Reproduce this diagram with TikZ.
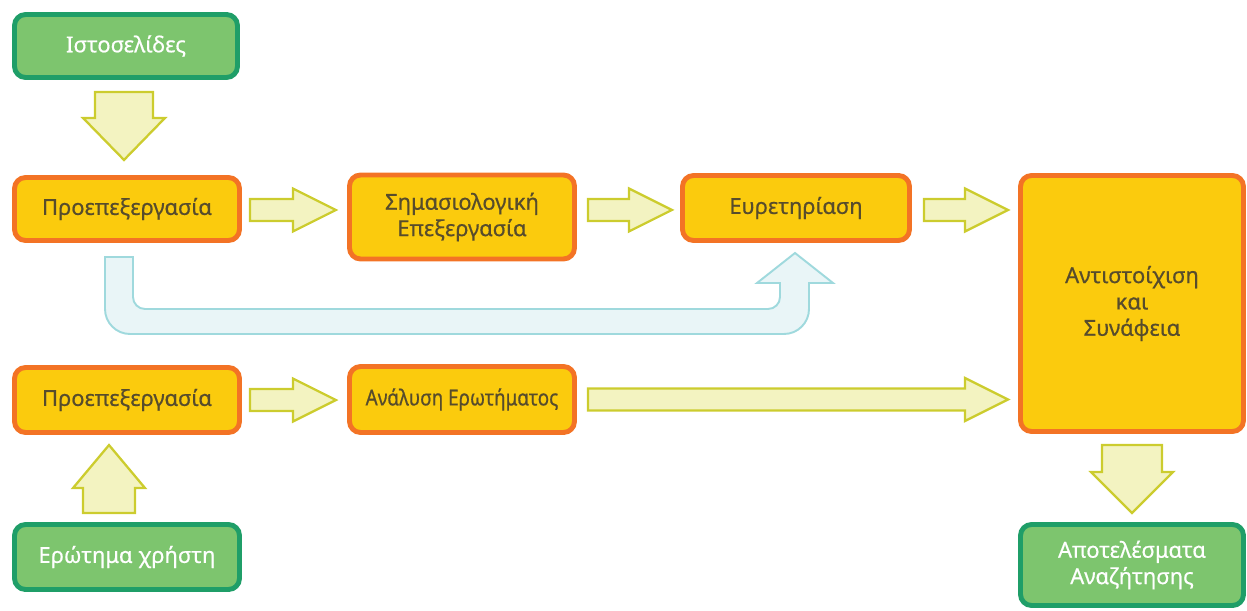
\documentclass[tikz,border=0pt]{standalone}
\usepackage{fontspec}
\setmainfont{Noto Sans}[FakeBold=0.6]
\newfontfamily\narrowfont{Noto Sans}[FakeStretch=0.86, FakeBold=0.6]
\usetikzlibrary{calc}

\definecolor{greenfill}{HTML}{7DC56E}
\definecolor{greenline}{HTML}{1F9E68}
\definecolor{orangeline}{HTML}{F37325}
\definecolor{yellowfill}{HTML}{FBCB0D}
\definecolor{textdark}{HTML}{574C2C}
\definecolor{flowfill}{HTML}{F3F3C1}
\definecolor{flowline}{HTML}{CCCC2E}
\definecolor{loopfill}{HTML}{E9F5F7}
\definecolor{loopline}{HTML}{9FD9DD}

\tikzset{
  srcbox/.style={draw=greenline, fill=greenfill, line width=2.8pt, rounded corners=0.22cm,
    text=white, align=center, font=\fontsize{12.5}{15}\selectfont},
  procbox/.style={draw=orangeline, fill=yellowfill, line width=2.8pt, rounded corners=0.22cm,
    text=textdark, align=center, font=\fontsize{12.5}{15}\selectfont},
  flow/.style={draw=flowline, fill=flowfill, line width=1.3pt, line join=miter},
  pics/fatarrow/.style args={#1/#2/#3/#4}{code={
    \draw[flow] (0,-#2) -- ({#1-#4},-#2) -- ({#1-#4},-#3) -- (#1,0)
      -- ({#1-#4},#3) -- ({#1-#4},#2) -- (0,#2) -- cycle;}}
}

\begin{document}
\begin{tikzpicture}[x=0.02cm, y=-0.02cm]
  \useasboundingbox (0,0) rectangle (1247,611);

  % Boxes
  \node[srcbox, minimum width=4.46cm, minimum height=1.26cm] (ist) at (126,46) {Ιστοσελίδες};
  \node[procbox, minimum width=4.5cm, minimum height=1.26cm] (pre1) at (127,209) {Προεπεξεργασία};
  \node[procbox, minimum width=4.5cm, minimum height=1.68cm] (sem) at (462,217) {Σημασιολογική\\Επεξεργασία};
  \node[procbox, minimum width=4.54cm, minimum height=1.3cm] (evr) at (796,208) {Ευρετηρίαση};
  \node[procbox, minimum width=4.46cm, minimum height=5.12cm] (ant) at (1132,303.5) {Αντιστοίχιση\\και\\Συνάφεια};
  \node[procbox, minimum width=4.5cm, minimum height=1.32cm, inner xsep=2pt,
    font=\narrowfont\fontsize{12.5}{15}\selectfont] (ana) at (462,399.5) {Ανάλυση Ερωτήματος};
  \node[procbox, minimum width=4.5cm, minimum height=1.3cm] (pre2) at (127,400) {Προεπεξεργασία};
  \node[srcbox, minimum width=4.5cm, minimum height=1.3cm] (ero) at (127,557) {Ερώτημα χρήστη};
  \node[srcbox, minimum width=4.46cm, minimum height=1.62cm] (apo) at (1132,565) {Αποτελέσματα\\Αναζήτησης};

  % Block arrows
  \pic[rotate=-90] at ($(ist.south)+(-2,12)$) {fatarrow=68/29/41/42};
  \pic at ($(pre1.east)+(8,1)$) {fatarrow=86/11/21.5/43};
  \pic at ($(sem.east|-pre1.east)+(11,1)$) {fatarrow=84/11/21.5/43};
  \pic at ($(evr.east)+(12,2)$) {fatarrow=84/11/21.5/43};
  \pic at ($(pre2.east)+(8,0)$) {fatarrow=86/11/21.5/43};
  \pic at ($(ana.east)+(11,0)$) {fatarrow=420/11/21.5/43};
  \pic[rotate=90] at ($(ero.north)+(-18,-9)$) {fatarrow=68/26/36/43};
  \pic[rotate=-90] at ($(ant.south)+(0,11)$) {fatarrow=68/30/41/41};

  % Bypass arrow
  \draw[draw=loopline, fill=loopfill, line width=1.1pt]
    (105,257) [rounded corners=0.5cm] -- (105,334) -- (809,334) [sharp corners] -- (809,283)
    -- (833,283) -- (795,253) -- (757,283) -- (780,283) [rounded corners=0.24cm] -- (780,309)
    -- (133,309) [sharp corners] -- (133,257) -- cycle;
\end{tikzpicture}
\end{document}
